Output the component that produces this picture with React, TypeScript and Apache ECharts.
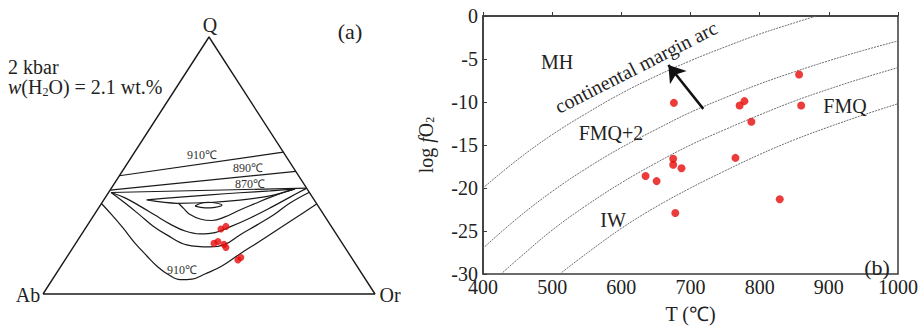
import React, { useEffect, useRef } from "react";
import * as echarts from "echarts";

const SERIF = "Liberation Serif, serif";
const RED = "#e60a0a";

// ---------- (a) ternary Q-Ab-Or, plotted in ternary plane coords (x: Ab->Or %, y: Q %) ----------
const TRIANGLE = [[0, 0], [100, 0], [50, 100], [0, 0]];
const ISO_910_TOP = [[23.0, 46.0], [72.4, 55.2]];
const ISO_890 = [[20.2, 40.4], [76.2, 47.7]];
const ISO_870 = [[20.5, 39.5], [79.4, 41.2]];
const LENS = [
  [31.2, 36.6], [40.3, 37.6], [50.3, 38.6], [59.3, 39.4], [68.4, 40.1], [75.9, 40.9],
  [68.4, 38.2], [59.3, 36.5], [50.3, 35.6], [40.3, 35.3], [31.2, 36.6]
];
const DOME = [
  [45.8, 34.2], [47.3, 35.2], [49.7, 35.7], [52.1, 35.4], [53.9, 34.6],
  [51.8, 33.7], [48.8, 33.5], [45.8, 34.2]
];
const CURVE_D = [
  [40.8, 35.3], [42.5, 33.1], [44.3, 30.9], [47.3, 29.2], [50.9, 28.6], [54.8, 30.0],
  [59.3, 32.7], [63.9, 35.2], [68.4, 37.6], [72.9, 39.7], [75.9, 40.9]
];
const CURVE_C = [
  [20.5, 39.5], [24.7, 37.4], [29.2, 34.2], [33.7, 30.7], [38.3, 27.2], [42.8, 24.5],
  [47.3, 23.4], [51.8, 23.9], [56.3, 26.1], [62.4, 29.6], [68.4, 33.5], [74.4, 37.7], [79.2, 41.0]
];
const CURVE_B = [
  [20.5, 39.5], [24.7, 35.4], [29.2, 30.7], [33.1, 26.5], [37.3, 23.0], [43.3, 19.1],
  [50.3, 18.3], [54.8, 19.3], [59.3, 23.0], [64.5, 26.9], [69.4, 30.7], [74.4, 35.4], [80.1, 39.5]
];
const CURVE_A_910 = [
  [17.6, 35.2], [20.8, 30.7], [24.1, 25.7], [27.7, 19.8], [31.3, 14.8], [34.6, 10.5],
  [37.7, 7.6], [41.3, 5.6], [44.9, 5.8], [48.8, 7.8], [53.9, 10.9], [59.3, 15.6],
  [65.4, 20.6], [71.4, 25.7], [77.4, 30.7], [82.4, 35.0]
];
const TERNARY_SAMPLES = [
  [53.6, 25.3], [55.1, 26.3], [51.5, 19.7], [52.7, 20.4],
  [54.5, 19.3], [55.1, 18.1], [58.7, 13.2], [59.6, 14.2]
];

// ---------- (b) log fO2 vs T ----------
const T_TICKS = [400, 500, 600, 700, 800, 900, 1000];
const LOGFO2_TICKS = [0, -5, -10, -15, -20, -25, -30];
const MH_CURVE = [[400, -20], [450, -16.7], [500, -13.8], [550, -11.3], [600, -9.0], [650, -7.0], [700, -5.2], [750, -3.6], [800, -2.1], [850, -0.8], [882, 0]];
const FMQ2_CURVE = [[400, -27], [450, -23.5], [500, -20.4], [550, -17.7], [600, -15.3], [650, -13.2], [700, -11.2], [750, -9.5], [800, -7.9], [850, -6.5], [900, -5.2], [950, -4.0], [1000, -2.9]];
const FMQ_CURVE = [[426, -30], [450, -28.3], [500, -24.9], [550, -22.0], [600, -19.4], [650, -17.1], [700, -15.0], [750, -13.2], [800, -11.5], [850, -9.9], [900, -8.5], [950, -7.2], [1000, -6.0]];
const IW_CURVE = [[511, -30], [550, -27.6], [600, -24.7], [650, -22.2], [700, -20.0], [750, -18.0], [800, -16.1], [850, -14.4], [900, -12.9], [950, -11.5], [1000, -10.2]];
const SAMPLE_T = [857, 676, 771, 778, 860, 788, 675, 675, 687, 635, 651, 765, 678, 829];
const SAMPLE_LOGFO2 = [-6.8, -10.1, -10.4, -9.9, -10.4, -12.3, -16.6, -17.3, -17.7, -18.6, -19.2, -16.5, -22.9, -21.3];
const ARROW_FROM = [718.5, -10.8];
const ARROW_TO = [668, -5.7];

function ternLine(data: number[][], smooth: number | boolean = false, width = 1.2) {
  return {
    type: "line",
    xAxisIndex: 0,
    yAxisIndex: 0,
    data,
    smooth,
    showSymbol: false,
    symbol: "none",
    silent: true,
    clip: false,
    lineStyle: { color: "#1a1a1a", width },
  };
}

function bufferLine(data: number[][]) {
  return {
    type: "line",
    xAxisIndex: 1,
    yAxisIndex: 1,
    data,
    smooth: 0.4,
    showSymbol: false,
    symbol: "none",
    silent: true,
    lineStyle: { color: "#6e6e6e", width: 1, type: [2, 1] },
  };
}

function txt(text: string, x: number, y: number, size: number, align = "center", extra: any = {}) {
  return {
    type: "text",
    x,
    y,
    silent: true,
    z: 10,
    style: {
      text,
      fontFamily: SERIF,
      fontSize: size,
      fill: extra.fill || "#222",
      align,
      textAlign: align,
      verticalAlign: "middle",
      textVerticalAlign: "middle",
      rich: extra.rich,
    },
    rotation: extra.rotation || 0,
  };
}

export default function App() {
  const ref = useRef<HTMLDivElement>(null);

  useEffect(() => {
    if (!ref.current) return;
    const chart = echarts.init(ref.current, undefined, { renderer: "svg" });

    const axisLine = { show: true, lineStyle: { color: "#3a3a3a", width: 1.5 } };
    const labelStyle = { fontFamily: SERIF, fontSize: 20, color: "#222" };

    const option: any = {
      animation: false,
      backgroundColor: "#fff",
      textStyle: { fontFamily: SERIF },
      grid: [
        { left: 43, top: 37, width: 332, height: 257, show: false },
        { left: 483, top: 16, width: 415, height: 266, show: true, borderColor: "#3a3a3a", borderWidth: 1.5, backgroundColor: "transparent" },
      ],
      xAxis: [
        { gridIndex: 0, type: "value", min: 0, max: 100, show: false },
        {
          gridIndex: 1,
          type: "value",
          min: T_TICKS[0],
          max: T_TICKS[T_TICKS.length - 1],
          interval: T_TICKS[1] - T_TICKS[0],
          axisLine,
          axisTick: { show: true, inside: true, length: 4, lineStyle: { color: "#3a3a3a", width: 1 } },
          splitLine: { show: false },
          axisLabel: { ...labelStyle, margin: 3, formatter: (v: number) => String(v) },
          name: "T (℃)",
          nameLocation: "middle",
          nameGap: 30,
          nameTextStyle: { ...labelStyle },
        },
      ],
      yAxis: [
        { gridIndex: 0, type: "value", min: 0, max: 100, show: false },
        {
          gridIndex: 1,
          type: "value",
          min: LOGFO2_TICKS[LOGFO2_TICKS.length - 1],
          max: LOGFO2_TICKS[0],
          interval: LOGFO2_TICKS[0] - LOGFO2_TICKS[1],
          axisLine,
          axisTick: { show: true, inside: true, length: 4, lineStyle: { color: "#3a3a3a", width: 1 } },
          splitLine: { show: false },
          axisLabel: { ...labelStyle, margin: 5, formatter: (v: number) => String(v) },
          name: "{r|log }{i|f}{r|O}{s|2}",
          nameLocation: "middle",
          nameGap: 47,
          nameTextStyle: {
            ...labelStyle,
            rich: {
              r: { fontFamily: SERIF, fontSize: 20, color: "#222" },
              i: { fontFamily: SERIF, fontSize: 20, fontStyle: "italic", color: "#222" },
              s: { fontFamily: SERIF, fontSize: 12, color: "#222", padding: [9, 0, 0, 0] },
            },
          },
        },
      ],
      series: [
        ternLine(TRIANGLE, false, 1.4),
        ternLine(ISO_910_TOP),
        ternLine(ISO_890),
        ternLine(ISO_870),
        ternLine(LENS, 0.3),
        ternLine(DOME, 0.4),
        ternLine(CURVE_D, 0.4),
        ternLine(CURVE_C, 0.4),
        ternLine(CURVE_B, 0.4),
        ternLine(CURVE_A_910, 0.4),
        {
          type: "scatter",
          xAxisIndex: 0,
          yAxisIndex: 0,
          data: TERNARY_SAMPLES,
          symbolSize: 7,
          itemStyle: { color: RED },
          silent: true,
          z: 5,
        },
        bufferLine(MH_CURVE),
        bufferLine(FMQ2_CURVE),
        bufferLine(FMQ_CURVE),
        bufferLine(IW_CURVE),
        {
          type: "scatter",
          xAxisIndex: 1,
          yAxisIndex: 1,
          data: SAMPLE_T.map((t, i) => [t, SAMPLE_LOGFO2[i]]),
          symbolSize: 8,
          itemStyle: { color: RED },
          silent: true,
          z: 5,
          markLine: {
            silent: true,
            symbol: ["none", "arrow"],
            symbolSize: 16,
            label: { show: false },
            lineStyle: { color: "#111", width: 2.5, type: "solid" },
            data: [[{ coord: ARROW_FROM }, { coord: ARROW_TO }]],
          },
        },
      ],
      graphic: [
        txt("Q", 210, 25, 20),
        txt("Ab", 28, 295, 20),
        txt("Or", 390, 295, 20),
        txt("(a)", 350, 31, 22),
        txt("2 kbar", 8, 67, 20, "left"),
        txt("{i|w}(H{s|2}O) = 2.1 wt.%", 8, 87, 20, "left", {
          rich: {
            i: { fontFamily: SERIF, fontSize: 20, fontStyle: "italic", fill: "#222" },
            s: { fontFamily: SERIF, fontSize: 12, fill: "#222", padding: [9, 0, 0, 0] },
          },
        }),
        txt("910℃", 202, 155, 12, "center", { fill: "#333" }),
        txt("890℃", 248, 168, 12, "center", { fill: "#333" }),
        txt("870℃", 250, 184, 12, "center", { fill: "#333" }),
        txt("910℃", 182, 270, 12, "center", { fill: "#333" }),
        txt("MH", 557, 62, 20),
        txt("FMQ+2", 611, 133, 20),
        txt("IW", 613, 220, 20),
        txt("FMQ", 845, 106, 20),
        txt("(b)", 877, 267, 22),
        txt("continental margin arc", 636, 67, 20, "center", { rotation: (27 * Math.PI) / 180 }),
      ],
    };

    chart.setOption(option);
    return () => chart.dispose();
  }, []);

  return (
    <div
      ref={ref}
      style={{ position: "absolute", left: 0, top: 0, width: 921, height: 329, background: "#fff" }}
    />
  );
}
